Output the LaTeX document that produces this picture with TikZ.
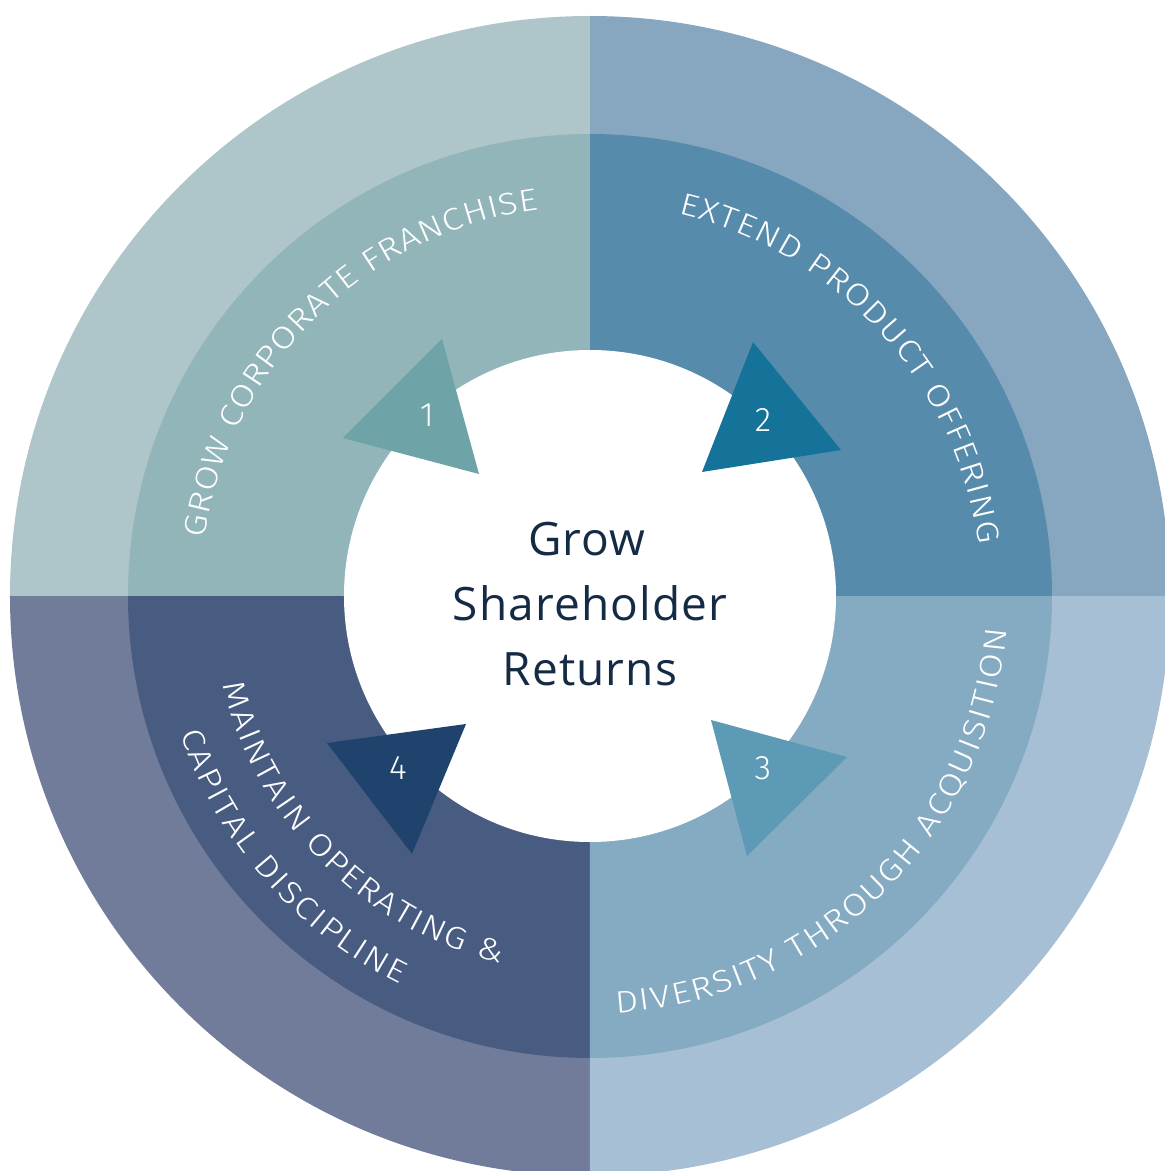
\documentclass[tikz,border=0pt]{standalone}
\usepackage{fontspec}
\setmainfont{Open Sans}
\newfontfamily\lightsans{Fira Sans}[UprightFont={* Light}, FakeStretch=1.18]
\newfontfamily\numfont{Fira Sans}[UprightFont={* Light}]
\newfontfamily\centerfont{Open Sans}[LetterSpace=2.5]
\usetikzlibrary{decorations.text}
\definecolor{tlo}{HTML}{AEC5C9}
\definecolor{tli}{HTML}{91B5B9}
\definecolor{tlt}{HTML}{6EA3A7}
\definecolor{tro}{HTML}{87A6BF}
\definecolor{tri}{HTML}{568BAC}
\definecolor{trt}{HTML}{15739A}
\definecolor{bro}{HTML}{A6BFD4}
\definecolor{bri}{HTML}{85ABC3}
\definecolor{brt}{HTML}{5D9AB5}
\definecolor{blo}{HTML}{717C9A}
\definecolor{bli}{HTML}{485C82}
\definecolor{blt}{HTML}{1F436C}
\definecolor{navy}{HTML}{152B45}
\newcommand\curvefont{\fontsize{31}{33}\selectfont\lightsans}
\tikzset{
  arctext/.style={decorate, decoration={text along path, text={|\curvefont|#1}, text align=fit to path, text color=white}},
  numtext/.style={text=white, font=\fontsize{34}{36}\selectfont\numfont, inner sep=0pt},
  midtext/.style={text=navy, font=\fontsize{46}{65}\selectfont\centerfont, anchor=base, inner sep=0pt},
}
\begin{document}
\begin{tikzpicture}[x=1pt,y=1pt]
\useasboundingbox (-590,-575) rectangle (575,596);
\clip (-590,-575) rectangle (575,596);
% outer ring quadrants
\fill[tro] (0,0) -- (0:580) arc[start angle=0, end angle=90, radius=580] -- cycle;
\fill[tlo] (0,0) -- (90:580) arc[start angle=90, end angle=180, radius=580] -- cycle;
\fill[blo] (0,0) -- (180:580) arc[start angle=180, end angle=270, radius=580] -- cycle;
\fill[bro] (0,0) -- (270:580) arc[start angle=270, end angle=360, radius=580] -- cycle;
% inner ring quadrants
\fill[tri] (0,0) -- (0:462) arc[start angle=0, end angle=90, radius=462] -- cycle;
\fill[tli] (0,0) -- (90:462) arc[start angle=90, end angle=180, radius=462] -- cycle;
\fill[bli] (0,0) -- (180:462) arc[start angle=180, end angle=270, radius=462] -- cycle;
\fill[bri] (0,0) -- (270:462) arc[start angle=270, end angle=360, radius=462] -- cycle;
% centre
\fill[white] (0,0) circle[radius=246];
% triangles
\fill[tlt] (-148,257) -- (-247,158) -- (-111,122) -- cycle;
\fill[trt] (163,254) -- (251,146) -- (112,124) -- cycle;
\fill[brt] (121,-124) -- (257,-161) -- (157,-260) -- cycle;
\fill[blt] (-263,-147) -- (-124,-128) -- (-178,-258) -- cycle;
\node[numtext] (n1) at (-163,181) {1};
\node[numtext] (n2) at (173,176) {2};
\node[numtext] (n3) at (173,-172) {3};
\node[numtext] (n4) at (-192,-172) {4};
% centre text
\node[midtext] (c1) at (-3,41) {Grow};
\node[midtext] (c2) at (0,-24) {Shareholder};
\node[midtext] (c3) at (0,-89) {Returns};
% curved labels
\path[arctext={GROW CORPORATE FRANCHISE}] (171.5:390) arc[start angle=171.5, end angle=97.5, radius=390];
\path[arctext={EXTEND PRODUCT OFFERING}] (77:392) arc[start angle=77, end angle=7.5, radius=392];
\path[arctext={DIVERSITY THROUGH ACQUISITION}] (-86.4:418) arc[start angle=-86.4, end angle=-4.6, radius=418];
\path[arctext={MAINTAIN OPERATING {\&}}] (193.6:378) arc[start angle=193.6, end angle=256.3, radius=378];
\path[arctext={CAPITAL DISCIPLINE}] (198.5:432) arc[start angle=198.5, end angle=243.9, radius=432];
\end{tikzpicture}
\end{document}
